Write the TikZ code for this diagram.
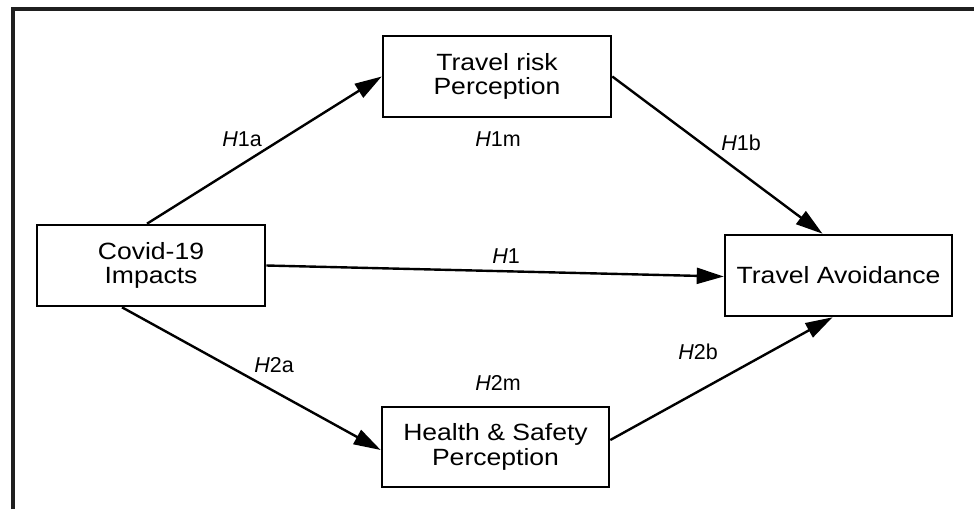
\documentclass[tikz,border=0pt]{standalone}
\usepackage{fontspec}
\setmainfont{Liberation Sans}
\newfontfamily\boxfont{Liberation Sans}[FakeStretch=1.13]
\usetikzlibrary{arrows.meta}
\tikzset{
  box/.style={draw=black, line width=2.6pt, fill=white, minimum width=228pt, minimum height=81pt,
    align=center, inner sep=0pt, font=\boxfont\fontsize{23.5}{24.5}\selectfont},
  link/.style={line width=2.4pt, -{Triangle[length=27pt,width=16pt]}},
  hlabel/.style={font=\fontsize{21.5}{24}\selectfont, inner sep=0pt}
}
\begin{document}
\begin{tikzpicture}[x=1pt,y=-1pt]
\useasboundingbox (0,0) rectangle (974,509);
\fill[white] (0,0) rectangle (974,509);
% frame
\draw[line width=4pt, draw=black!88, line cap=butt] (13,509) -- (13,9) -- (974,9);
% boxes
\node[box] (tr) at (497,76.5) {Travel risk\\Perception};
\node[box] (cv) at (151,265.5) {Covid-19\\Impacts};
\node[box, minimum width=227pt] (ta) at (838.5,275.5) {Travel Avoidance};
\node[box, minimum width=227pt, minimum height=80pt] (hs) at (495.5,447) {Health \& Safety\\Perception};
% connectors
\draw[link] ([xshift=-4pt]cv.north) -- (tr.west);
\draw[link] (tr.east) -- ([xshift=-16pt]ta.north);
\draw[link] (cv.east) -- ([yshift=-1pt]ta.west);
\draw[link] ([xshift=-29pt]cv.south) -- ([yshift=-3pt]hs.west);
\draw[link] ([yshift=7pt]hs.east) -- ([xshift=-6pt]ta.south);
% labels
\node[hlabel] (l1a) at (242,139) {\textit{H}1a};
\node[hlabel] (l1m) at (498,139) {\textit{H}1m};
\node[hlabel] (l1b) at (741,143) {\textit{H}1b};
\node[hlabel] (l1) at (506,256) {\textit{H}1};
\node[hlabel] (l2a) at (274,365) {\textit{H}2a};
\node[hlabel] (l2m) at (498,383) {\textit{H}2m};
\node[hlabel] (l2b) at (698,352) {\textit{H}2b};
\end{tikzpicture}
\end{document}
